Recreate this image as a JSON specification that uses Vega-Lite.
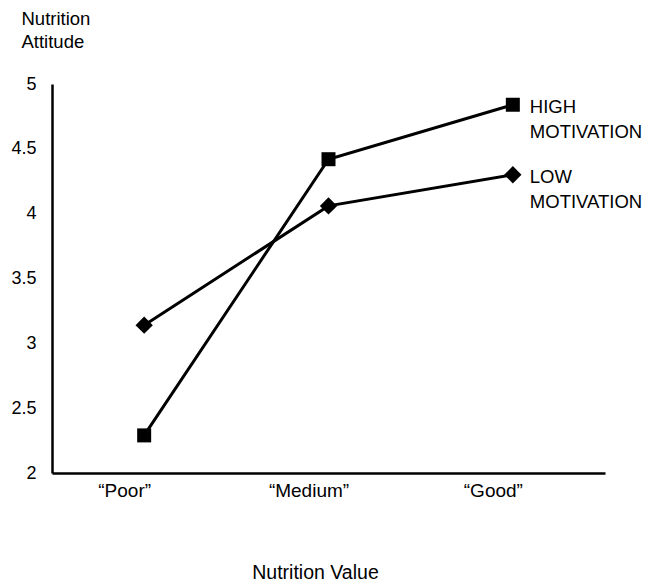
{
  "$schema": "https://vega.github.io/schema/vega-lite/v6.json",
  "autosize": {"type": "none"},
  "padding": {"left": 52, "top": 84, "right": 42, "bottom": 109},
  "width": 553,
  "height": 389,
  "background": "white",
  "config": {
    "view": {"stroke": null},
    "font": "Liberation Sans",
    "axis": {"grid": false, "ticks": false, "domainColor": "black", "domainWidth": 2.5, "labelColor": "black", "titleColor": "black", "labelFontSize": 18, "titleFontSize": 18.5, "titleFontWeight": "normal", "labelFont": "Liberation Sans", "titleFont": "Liberation Sans"}
  },
  "data": {
    "values": [
      {"value": "“Poor”", "group": "HIGH MOTIVATION", "attitude": 2.29, "label": ""},
      {"value": "“Medium”", "group": "HIGH MOTIVATION", "attitude": 4.42, "label": ""},
      {"value": "“Good”", "group": "HIGH MOTIVATION", "attitude": 4.84, "label": "HIGH\nMOTIVATION"},
      {"value": "“Poor”", "group": "LOW MOTIVATION", "attitude": 3.14, "label": ""},
      {"value": "“Medium”", "group": "LOW MOTIVATION", "attitude": 4.06, "label": ""},
      {"value": "“Good”", "group": "LOW MOTIVATION", "attitude": 4.30, "label": "LOW\nMOTIVATION"}
    ]
  },
  "encoding": {
    "x": {
      "field": "value", "type": "nominal", "sort": null,
      "scale": {"type": "point", "padding": 0.5},
      "axis": {"title": "Nutrition Value", "labelAngle": 0, "labelPadding": 8, "labelFontSize": 19, "labelOffset": -20, "titleFontSize": 19.5, "titleX": 263, "titleY": 105, "titleBaseline": "alphabetic", "titleAlign": "center"}
    },
    "y": {
      "field": "attitude", "type": "quantitative",
      "scale": {"domain": [2, 5], "nice": false, "zero": false},
      "axis": {"title": ["Nutrition", "Attitude"], "values": [2, 2.5, 3, 3.5, 4, 4.5, 5], "format": "~g", "labelPadding": 16, "titleAngle": 0, "titleAlign": "left", "titleBaseline": "alphabetic", "titleX": -31, "titleY": -60, "titleLineHeight": 23}
    }
  },
  "layer": [
    {
      "mark": {"type": "line", "color": "black", "strokeWidth": 3},
      "encoding": {"detail": {"field": "group"}}
    },
    {
      "mark": {"type": "point", "filled": true, "color": "black", "opacity": 1},
      "encoding": {
        "shape": {"field": "group", "type": "nominal", "scale": {"domain": ["HIGH MOTIVATION", "LOW MOTIVATION"], "range": ["square", "diamond"]}, "legend": null},
        "size": {"field": "group", "type": "nominal", "scale": {"domain": ["HIGH MOTIVATION", "LOW MOTIVATION"], "range": [196, 300]}, "legend": null}
      }
    },
    {
      "mark": {"type": "text", "align": "left", "baseline": "middle", "dx": 17, "dy": 2, "fontSize": 18.5, "lineHeight": 25, "color": "black", "lineBreak": "\n"},
      "encoding": {"text": {"field": "label"}}
    }
  ]
}
